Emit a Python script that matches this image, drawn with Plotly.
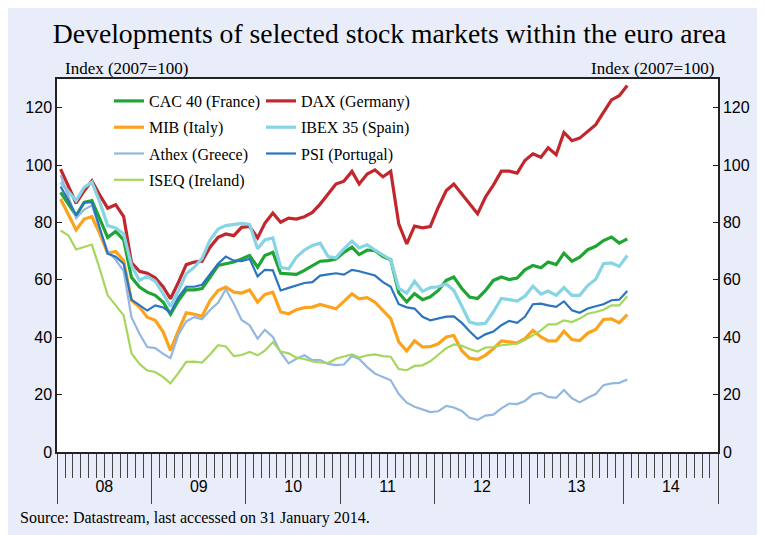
import pandas as pd
import plotly.graph_objects as go

# monthly observations, Jan 2008 - Jan 2014 (plotted mid-month)
months = pd.date_range("2008-01-01", "2014-01-01", freq="MS") + pd.Timedelta(days=14)

cac = [90.5, 86.4, 82.4, 87.0, 87.6, 81.2, 74.8, 76.9, 73.9, 60.9, 57.5, 55.7, 54.6, 52.2, 48.0, 52.8,
       56.5, 56.5, 57.0, 60.9, 65.0, 65.6, 66.2, 67.3, 68.5, 64.4, 68.5, 69.6, 62.3, 62.1, 61.9, 63.3,
       65.0, 66.5, 66.7, 67.3, 69.6, 71.4, 68.8, 70.4, 70.2, 68.1, 67.0, 55.5, 52.3, 55.2, 53.1, 54.1,
       56.3, 59.8, 61.0, 57.0, 54.0, 53.5, 56.2, 59.8, 61.0, 60.1, 60.6, 63.5, 65.0, 64.2, 66.2, 65.3,
       69.3, 66.5, 67.9, 70.5, 71.7, 73.7, 74.9, 72.8, 74.3]
dax = [98.6, 92.5, 86.7, 91.0, 94.5, 89.5, 85.0, 86.2, 82.0, 66.0, 63.0, 62.3, 60.7, 57.5, 53.4, 59.2,
       65.3, 66.2, 66.5, 71.4, 74.8, 76.0, 75.4, 78.3, 78.6, 74.6, 79.7, 83.3, 80.1, 81.5, 81.2, 82.0,
       83.5, 86.4, 89.9, 93.4, 94.4, 97.8, 93.4, 96.9, 98.3, 95.9, 97.8, 79.5, 72.5, 78.7, 78.1, 78.6,
       85.3, 91.1, 93.4, 89.9, 86.4, 83.0, 88.8, 93.0, 97.9, 97.9, 97.2, 101.6, 103.9, 102.7, 106.0, 103.6,
       111.4, 108.5, 109.4, 111.8, 114.1, 118.4, 122.7, 124.2, 127.7]
mib = [88.2, 82.8, 77.4, 81.2, 82.0, 76.0, 69.3, 69.9, 66.7, 52.8, 50.5, 47.0, 45.9, 41.8, 35.4, 42.4,
       48.5, 48.0, 47.3, 52.8, 56.3, 57.5, 55.7, 55.4, 56.5, 52.2, 54.9, 55.7, 48.8, 48.2, 49.6, 50.3,
       50.5, 51.4, 50.5, 49.9, 52.5, 55.1, 53.4, 53.8, 52.2, 49.4, 46.5, 38.4, 35.2, 38.8, 36.6, 36.7,
       37.7, 40.1, 40.6, 35.3, 32.7, 32.3, 33.7, 36.0, 38.7, 38.4, 38.0, 39.5, 42.4, 40.1, 38.7, 38.7,
       42.1, 39.2, 38.8, 41.4, 42.7, 46.2, 46.4, 45.0, 47.9]
ibex = [94.0, 90.5, 87.6, 92.2, 94.0, 87.0, 78.9, 78.1, 76.0, 65.0, 59.8, 61.2, 59.5, 55.1, 50.7, 56.3,
        62.1, 64.4, 67.5, 73.9, 77.7, 78.9, 79.3, 79.7, 79.3, 70.8, 73.9, 74.6, 64.4, 63.8, 67.9, 70.4,
        72.0, 72.8, 68.1, 67.7, 70.8, 73.5, 71.1, 72.2, 70.4, 68.5, 67.0, 57.0, 55.4, 59.5, 56.0, 57.3,
        57.6, 58.6, 56.3, 50.8, 45.3, 44.6, 44.8, 48.8, 53.5, 53.1, 52.6, 54.3, 57.8, 55.0, 56.1, 54.6,
        57.3, 54.6, 54.6, 58.0, 60.2, 65.6, 65.9, 64.7, 68.5]
athex = [96.5, 89.0, 81.5, 84.5, 86.0, 77.5, 70.0, 67.0, 63.0, 47.0, 41.2, 36.6, 36.2, 34.2, 32.7, 41.0,
         45.5, 47.0, 46.3, 49.5, 52.0, 56.7, 51.7, 46.0, 44.2, 39.5, 42.6, 40.1, 34.7, 30.9, 32.5, 33.7,
         32.0, 32.0, 30.7, 30.3, 30.5, 33.5, 32.4, 29.6, 27.3, 26.1, 25.0, 20.2, 17.2, 15.8, 14.9, 13.9,
         14.2, 16.1, 15.5, 14.3, 11.9, 11.2, 12.7, 13.0, 15.2, 16.9, 16.7, 17.8, 20.1, 20.6, 19.2, 18.9,
         21.6, 18.7, 17.3, 18.9, 20.2, 23.3, 23.9, 24.1, 25.3]
psi = [92.5, 87.6, 82.4, 87.0, 87.0, 77.5, 69.1, 68.1, 65.6, 53.1, 51.1, 49.3, 51.1, 50.4, 48.5, 54.0,
       57.6, 57.6, 58.3, 61.8, 65.6, 68.1, 66.7, 66.5, 67.3, 61.2, 63.5, 63.3, 56.3, 57.2, 58.1, 58.9,
       59.2, 61.5, 61.9, 62.3, 61.8, 63.5, 63.0, 62.1, 61.5, 59.2, 57.6, 51.5, 50.4, 50.0, 47.1, 45.9,
       46.6, 47.2, 47.3, 45.0, 42.1, 39.4, 41.0, 42.0, 44.2, 45.7, 45.0, 47.1, 51.5, 51.7, 51.1, 50.6,
       52.5, 49.4, 48.5, 50.0, 50.8, 51.5, 52.9, 53.1, 56.1]
iseq = [77.2, 75.4, 70.6, 71.4, 72.3, 63.6, 54.6, 51.1, 47.6, 34.4, 30.7, 28.4, 27.9, 26.1, 23.9, 27.6,
        31.4, 31.5, 31.2, 34.0, 37.2, 36.8, 33.4, 33.8, 34.9, 33.7, 35.3, 38.3, 35.0, 34.4, 32.9, 32.4,
        31.6, 31.2, 31.0, 32.5, 33.2, 34.0, 32.9, 33.7, 34.0, 33.4, 33.2, 28.9, 28.5, 30.0, 30.2, 31.6,
        33.9, 36.2, 37.5, 37.0, 35.9, 35.0, 36.4, 36.6, 37.2, 37.6, 37.8, 39.0, 40.7, 42.4, 44.5, 44.5,
        45.9, 45.3, 46.5, 48.2, 48.8, 49.6, 51.1, 51.1, 54.3]

y_ticks = [0, 20, 40, 60, 80, 100, 120]

series = [
    ("CAC 40 (France)", cac, "#1fa533", 3.2, "legend"),
    ("DAX (Germany)", dax, "#c1272d", 3.2, "legend2"),
    ("MIB (Italy)", mib, "#fba31c", 3.2, "legend"),
    ("IBEX 35 (Spain)", ibex, "#86d4e4", 3.2, "legend2"),
    ("Athex (Greece)", athex, "#93b7e0", 2.2, "legend"),
    ("PSI (Portugal)", psi, "#2b74bf", 2.2, "legend2"),
    ("ISEQ (Ireland)", iseq, "#a6d65c", 2.2, "legend"),
]

serif = "Liberation Serif"
sans = "Liberation Sans"

# the page adds an 8px body margin, so the figure is 8px smaller each way
W, H = 757, 527
# plot box in figure pixels
L, R, T, B = 49, 710, 71, 444


def px_x(px):
    return (px - L) / (R - L)


def px_y(py):
    return (B - py) / (B - T)


fig = go.Figure()
for name, vals, color, width, leg in series:
    fig.add_trace(go.Scatter(x=months, y=vals, name=name, mode="lines",
                             line=dict(color=color, width=width),
                             legend=leg, legendgroup=name))

axis_col = "#222222"
fig.update_layout(
    width=W, height=H, autosize=False,
    paper_bgcolor="#E9EDFA", plot_bgcolor="white",
    margin=dict(l=L, r=W - R, t=T, b=H - B, autoexpand=False),
    title=dict(text="Developments of selected stock markets within the euro area",
               x=px_x(381.5), xref="paper", xanchor="center",
               y=1 - 25 / H, yref="container", yanchor="middle",
               font=dict(family=serif, size=27.7, color="black")),
    xaxis=dict(type="date", range=["2008-01-01", "2015-01-01"],
               dtick="M12", tick0="2008-01-01", tickformat="%y",
               ticklabelmode="period", ticklabelstandoff=-31,
               ticks="outside", ticklen=50, tickwidth=1.2, tickcolor="#444",
               showline=True, linecolor=axis_col, linewidth=1.5, mirror=True,
               showgrid=False, zeroline=False,
               tickfont=dict(family=sans, size=16, color="black"),
               minor=dict(dtick="M1", tick0="2008-01-01", ticks="outside",
                          ticklen=24, tickwidth=1.4, tickcolor="#444", showgrid=False)),
    yaxis=dict(range=[0, 130], tickvals=y_ticks, ticks="inside", ticklen=5,
               tickcolor=axis_col, showline=True, linecolor=axis_col, linewidth=1.5,
               showgrid=False, zeroline=False,
               tickfont=dict(family=sans, size=16, color="black")),
    yaxis2=dict(range=[0, 130], tickvals=y_ticks, overlaying="y", side="right", anchor="x",
                ticks="inside", ticklen=5, tickcolor=axis_col,
                showline=True, linecolor=axis_col, linewidth=1.5,
                showgrid=False, zeroline=False,
                tickfont=dict(family=sans, size=16, color="black")),
    legend=dict(x=px_x(101), xanchor="left", y=px_y(76), yanchor="top",
                bgcolor="rgba(0,0,0,0)", tracegroupgap=2.5,
                font=dict(family=serif, size=16, color="black")),
    legend2=dict(x=px_x(253), xanchor="left", y=px_y(76), yanchor="top",
                 bgcolor="rgba(0,0,0,0)", tracegroupgap=2.5,
                 font=dict(family=serif, size=16, color="black")),
    showlegend=True,
)

# invisible helper so the right-hand axis is drawn
fig.add_trace(go.Scatter(x=[months[0]], y=[None], yaxis="y2", showlegend=False,
                         hoverinfo="skip", mode="lines"))

fig.add_annotation(text="Index (2007=100)", x=px_x(55), xref="paper", xanchor="left",
                   y=px_y(61), yref="paper", yanchor="middle", showarrow=False,
                   font=dict(family=serif, size=17, color="black"))
fig.add_annotation(text="Index (2007=100)", x=px_x(708), xref="paper", xanchor="right",
                   y=px_y(61), yref="paper", yanchor="middle", showarrow=False,
                   font=dict(family=serif, size=17, color="black"))
fig.add_annotation(text="Source: Datastream, last accessed on 31 January 2014.",
                   x=px_x(10), xref="paper", xanchor="left",
                   y=px_y(510), yref="paper", yanchor="middle", showarrow=False,
                   font=dict(family=serif, size=16, color="black"))

fig.write_html("out.html")
